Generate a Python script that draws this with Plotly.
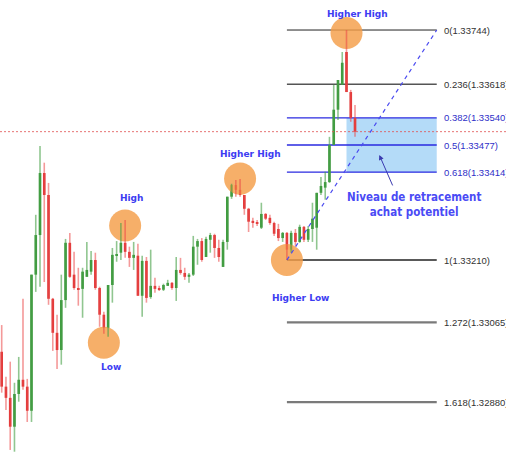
import numpy as np
import plotly.graph_objects as go

# ---------------- data (EUR-like price candles) ----------------
open_ = [1.32997, 1.32916, 1.32890, 1.32823, 1.32899, 1.32932, 1.32916, 1.32860, 1.33176, 1.33268,
         1.33412, 1.33361, 1.33120, 1.33041, 1.33001, 1.33117, 1.33250, 1.33176, 1.33145, 1.33143,
         1.33171, 1.33183, 1.33210, 1.33145, 1.33083, 1.33052, 1.33152, 1.33220, 1.33227, 1.33250,
         1.33229, 1.33215, 1.33220, 1.33127, 1.33208, 1.33124, 1.33150, 1.33145, 1.33141, 1.33150,
         1.33157, 1.33145, 1.33187, 1.33180, 1.33171, 1.33176, 1.33241, 1.33254, 1.33217, 1.33257,
         1.33268, 1.33238, 1.33194, 1.33252, 1.33357, 1.33384, 1.33373, 1.33361, 1.33329, 1.33301,
         1.33296, 1.33285, 1.33317, 1.33308, 1.33296, 1.33282, 1.33261, 1.33273, 1.33234, 1.33273,
         1.33252, 1.33287, 1.33257, 1.33282, 1.33285, 1.33366, 1.33378, 1.33391, 1.33477, 1.33559,
         1.33617, 1.33693, 1.33600, 1.33540]
close_ = [1.32916, 1.32890, 1.32823, 1.32899, 1.32932, 1.32916, 1.32860, 1.33176, 1.33268, 1.33412,
          1.33361, 1.33120, 1.33041, 1.33001, 1.33117, 1.33250, 1.33171, 1.33145, 1.33141, 1.33183,
          1.33187, 1.33210, 1.33145, 1.33083, 1.33052, 1.33152, 1.33222, 1.33224, 1.33250, 1.33229,
          1.33215, 1.33222, 1.33127, 1.33208, 1.33122, 1.33150, 1.33143, 1.33141, 1.33152, 1.33157,
          1.33145, 1.33187, 1.33180, 1.33171, 1.33176, 1.33241, 1.33254, 1.33210, 1.33259, 1.33268,
          1.33238, 1.33217, 1.33252, 1.33357, 1.33384, 1.33373, 1.33361, 1.33329, 1.33299, 1.33296,
          1.33294, 1.33317, 1.33306, 1.33296, 1.33271, 1.33261, 1.33273, 1.33234, 1.33273, 1.33252,
          1.33287, 1.33257, 1.33282, 1.33306, 1.33366, 1.33382, 1.33391, 1.33477, 1.33559, 1.33628,
          1.33668, 1.33600, 1.33540, 1.33508]
high_ = [1.33059, 1.32939, 1.32974, 1.32925, 1.32985, 1.33120, 1.32934, 1.33176, 1.33315, 1.33475,
         1.33436, 1.33389, 1.33122, 1.33083, 1.33176, 1.33259, 1.33273, 1.33229, 1.33192, 1.33192,
         1.33252, 1.33231, 1.33227, 1.33148, 1.33090, 1.33152, 1.33238, 1.33254, 1.33296, 1.33303,
         1.33241, 1.33252, 1.33248, 1.33220, 1.33217, 1.33234, 1.33169, 1.33150, 1.33155, 1.33164,
         1.33159, 1.33217, 1.33215, 1.33192, 1.33180, 1.33266, 1.33259, 1.33261, 1.33264, 1.33273,
         1.33271, 1.33257, 1.33257, 1.33357, 1.33387, 1.33396, 1.33398, 1.33361, 1.33331, 1.33308,
         1.33303, 1.33343, 1.33319, 1.33315, 1.33299, 1.33294, 1.33275, 1.33275, 1.33278, 1.33282,
         1.33292, 1.33289, 1.33289, 1.33343, 1.33366, 1.33403, 1.33415, 1.33496, 1.33617, 1.33628,
         1.33693, 1.33744, 1.33605, 1.33570]
low_ = [1.32902, 1.32862, 1.32769, 1.32765, 1.32881, 1.32909, 1.32834, 1.32834, 1.33136, 1.33148,
        1.33159, 1.33106, 1.32999, 1.32957, 1.32967, 1.33099, 1.33169, 1.33141, 1.33104, 1.33076,
        1.33171, 1.33176, 1.33141, 1.33055, 1.33039, 1.33032, 1.33111, 1.33206, 1.33210, 1.33215,
        1.33194, 1.33187, 1.33127, 1.33078, 1.33111, 1.33120, 1.33134, 1.33138, 1.33138, 1.33150,
        1.33141, 1.33115, 1.33176, 1.33164, 1.33157, 1.33173, 1.33199, 1.33206, 1.33217, 1.33227,
        1.33215, 1.33206, 1.33194, 1.33234, 1.33352, 1.33357, 1.33357, 1.33315, 1.33275, 1.33285,
        1.33289, 1.33282, 1.33303, 1.33292, 1.33266, 1.33254, 1.33252, 1.33210, 1.33227, 1.33243,
        1.33250, 1.33252, 1.33252, 1.33252, 1.33234, 1.33361, 1.33350, 1.33389, 1.33477, 1.33535,
        1.33617, 1.33600, 1.33531, 1.33496]

fib_ratios = ["0", "0.236", "0.382", "0.5", "0.618", "1", "1.272", "1.618"]
fib_prices = [1.33744, 1.33618, 1.33540, 1.33477, 1.33414, 1.33210, 1.33065, 1.32880]

# swing markers: (candle index, price, label)
swing_idx = [24, 29, 56, 67, 81]
swing_price = [1.33018, 1.33290, 1.33399, 1.33210, 1.33737]
swing_labels = ["Low", "High", "Higher High", "Higher Low", "Higher High"]
label_idx = [25.7, 30.6, 58.5, 70.3, 83.5]
label_price = [1.32962, 1.33354, 1.33456, 1.33122, 1.33781]

note_text = "Niveau de retracement<br>achat potentiel"

# ---------------- styling ----------------
GREEN_BODY = "#3f9a3f"
GREEN_WICK = "rgba(70,160,70,0.6)"
RED_BODY = "#e03a3a"
RED_WICK = "rgba(235,70,70,0.55)"
LABEL_BLUE = "#3c3cf2"
fib_colors = ["#222222", "#555555", "#2a2ae0", "#2a2ae0", "#2a2ae0", "#222222", "#7a7a7a", "#7a7a7a"]
fib_widths = [1, 1.5, 1.3, 1.3, 1.3, 1.3, 2.2, 2.2]
fib_text_colors = ["#333333", "#333333", "#2f2fc8", "#2f2fc8", "#2f2fc8", "#333333", "#333333", "#333333"]

n = len(open_)
idx = list(range(n))
hh = int(np.argmax(high_))
hl = 60 + int(np.argmin(low_[60:hh + 1]))
fib_end = hh + 21.2

fig = go.Figure()

# swing circles (under the candles)
fig.add_trace(go.Scatter(
    x=swing_idx, y=swing_price, mode="markers",
    marker=dict(size=32, color="rgba(244,158,72,0.82)", line=dict(width=0)),
    hoverinfo="skip"))

# wicks
for up, col in [(True, GREEN_WICK), (False, RED_WICK)]:
    wx, wy = [], []
    for i in idx:
        if (close_[i] >= open_[i]) == up:
            wx += [i, i, None]
            wy += [low_[i], high_[i], None]
    fig.add_trace(go.Scatter(x=wx, y=wy, mode="lines",
                             line=dict(color=col, width=1.6), hoverinfo="skip"))

# bodies
for up, col in [(True, GREEN_BODY), (False, RED_BODY)]:
    bx, bb, bh = [], [], []
    for i in idx:
        if (close_[i] >= open_[i]) == up:
            bx.append(i)
            bb.append(min(open_[i], close_[i]))
            bh.append(max(abs(close_[i] - open_[i]), 0.00003))
    fig.add_trace(go.Bar(x=bx, y=bh, base=bb, width=0.62,
                         marker=dict(color=col, line=dict(width=0)), hoverinfo="skip"))

shapes = []
# potential buy zone
shapes.append(dict(type="rect", xref="x", yref="y", x0=hh, x1=fib_end,
                   y0=fib_prices[2], y1=fib_prices[4],
                   fillcolor="rgba(140,200,245,0.65)", line=dict(width=0), layer="below"))
# fib lines
for p, c, w in zip(fib_prices, fib_colors, fib_widths):
    shapes.append(dict(type="line", xref="x", yref="y", x0=hl, x1=fib_end, y0=p, y1=p,
                       line=dict(color=c, width=w), layer="below"))
# trend line
shapes.append(dict(type="line", xref="x", yref="y", x0=hl, x1=fib_end,
                   y0=low_[hl], y1=fib_prices[0],
                   line=dict(color="#4a4af0", width=1.2, dash="4px,4px")))
# current price dotted line
shapes.append(dict(type="line", xref="paper", yref="y", x0=0, x1=1,
                   y0=close_[-1], y1=close_[-1],
                   line=dict(color="rgba(225,80,80,0.8)", width=1, dash="2px,2px")))

annotations = []
for r, p, tc in zip(fib_ratios, fib_prices, fib_text_colors):
    annotations.append(dict(x=fib_end + 1.25, y=p, xref="x", yref="y",
                            text=f"{r}({p:.5f})", showarrow=False, xanchor="left", yanchor="middle",
                            font=dict(family="Liberation Sans, Arial, sans-serif", size=9.5, color=tc)))
for lx, ly, t in zip(label_idx, label_price, swing_labels):
    annotations.append(dict(x=lx, y=ly, xref="x", yref="y", text=f"<b>{t}</b>", showarrow=False,
                            xanchor="center", yanchor="middle",
                            font=dict(family="DejaVu Sans, Verdana, sans-serif", size=9, color=LABEL_BLUE)))
annotations.append(dict(x=96.8, y=1.33338, xref="x", yref="y", text=f"<b>{note_text}</b>",
                        showarrow=False, xanchor="center", yanchor="middle",
                        font=dict(family="DejaVu Sans Condensed, Liberation Sans Narrow, sans-serif",
                                  size=11.5, color="#4a4af5")))
annotations.append(dict(x=88.7, y=1.33454, xref="x", yref="y", text="", showarrow=True,
                        ax=14, ay=32, arrowhead=2, arrowsize=1, arrowwidth=1, arrowcolor="#3a3ab0"))

fig.update_layout(
    width=506, height=460, margin=dict(l=0, r=0, t=0, b=0),
    paper_bgcolor="white", plot_bgcolor="white",
    showlegend=False, barmode="overlay",
    xaxis=dict(visible=False, range=[-0.4, 118.47]),
    yaxis=dict(visible=False, range=[1.327457, 1.338137]),
    shapes=shapes, annotations=annotations,
)

fig.write_html("out.html")
